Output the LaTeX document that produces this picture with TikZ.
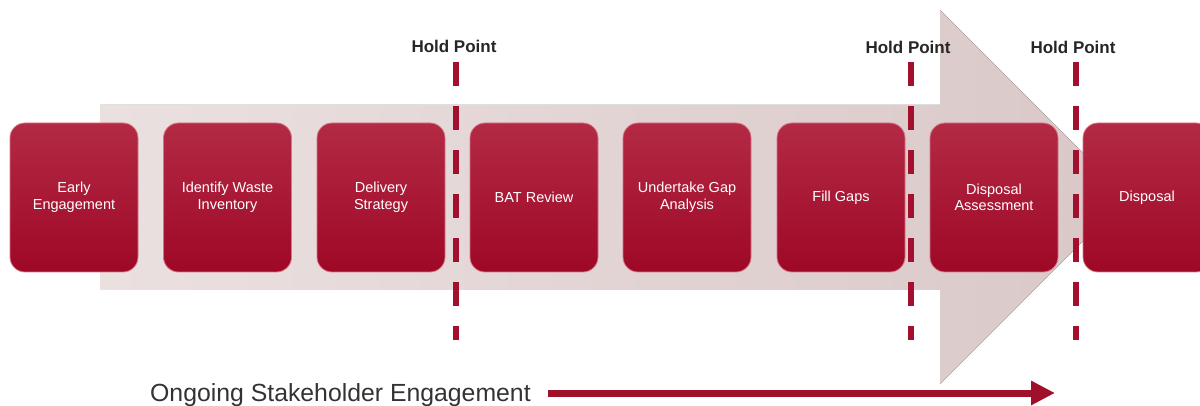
\documentclass[tikz,border=0pt]{standalone}
\usepackage{fontspec}
\setmainfont{Liberation Sans}
\usetikzlibrary{arrows.meta}
\definecolor{boxtop}{HTML}{B32A44}
\definecolor{boxbot}{HTML}{9E0826}
\definecolor{boxedge}{HTML}{D77586}
\definecolor{hpred}{HTML}{A3102E}
\definecolor{arrowfill}{HTML}{DAC8C8}
\definecolor{arrowlight}{HTML}{EBE0E0}
\definecolor{darkred}{HTML}{A0102A}
\tikzset{
  stepbox/.style={rounded corners=15pt, minimum width=128pt, minimum height=149pt,
    top color=boxtop, bottom color=boxbot, draw=boxedge, line width=0.8pt,
    text=white, align=center, font=\fontsize{14.5}{16.5}\selectfont, inner sep=0pt},
  holdline/.style={draw=hpred, line width=6pt, dash pattern=on 24pt off 20pt},
  holdlabel/.style={font=\fontsize{17}{19}\selectfont\bfseries, text=black!85},
}
\begin{document}
\begin{tikzpicture}[x=1pt,y=-1pt]
\useasboundingbox (0,0) rectangle (1200,406);
% big background arrow
\fill[left color=arrowlight, right color=arrowfill]
  (100,105) -- (940,105) -- (940,10) -- (1127,197) -- (940,384) -- (940,290) -- (100,290) -- cycle;
% boxes
\node[stepbox] (b1) at (74,197.5) {Early\\Engagement};
\node[stepbox] (b2) at (227.5,197.5) {Identify Waste\\Inventory};
\node[stepbox] (b3) at (381,197.5) {Delivery\\Strategy};
\node[stepbox] (b4) at (534,197.5) {BAT Review};
\node[stepbox] (b5) at (687,197.5) {Undertake Gap\\Analysis};
\node[stepbox] (b6) at (841,197.5) {Fill Gaps};
\node[stepbox] (b7) at (994,197.5) {Disposal\\Assessment};
\node[stepbox] (b8) at (1147,197.5) {Disposal};
% hold points
\node[holdlabel] (h1) at (454,46) {Hold Point};
\node[holdlabel] (h2) at (908,47) {Hold Point};
\node[holdlabel] (h3) at (1073,47) {Hold Point};
\coordinate (h1t) at (456,62); \coordinate (h1b) at (456,340);
\coordinate (h2t) at (911,62); \coordinate (h2b) at (911,340);
\coordinate (h3t) at (1076,62); \coordinate (h3b) at (1076,340);
\draw[holdline] (h1t) -- (h1b);
\draw[holdline] (h2t) -- (h2b);
\draw[holdline] (h3t) -- (h3b);
% ongoing engagement
\node[anchor=base west, font=\fontsize{24.8}{26}\selectfont, text=black!80, inner sep=0pt] (og) at (150,401) {Ongoing Stakeholder Engagement};
\coordinate (oa) at (548,393);
\coordinate (ob) at (1055,393);
\draw[darkred, line width=7pt, -{Triangle[length=24pt,width=23pt]}] (oa) -- (ob);
\end{tikzpicture}
\end{document}
